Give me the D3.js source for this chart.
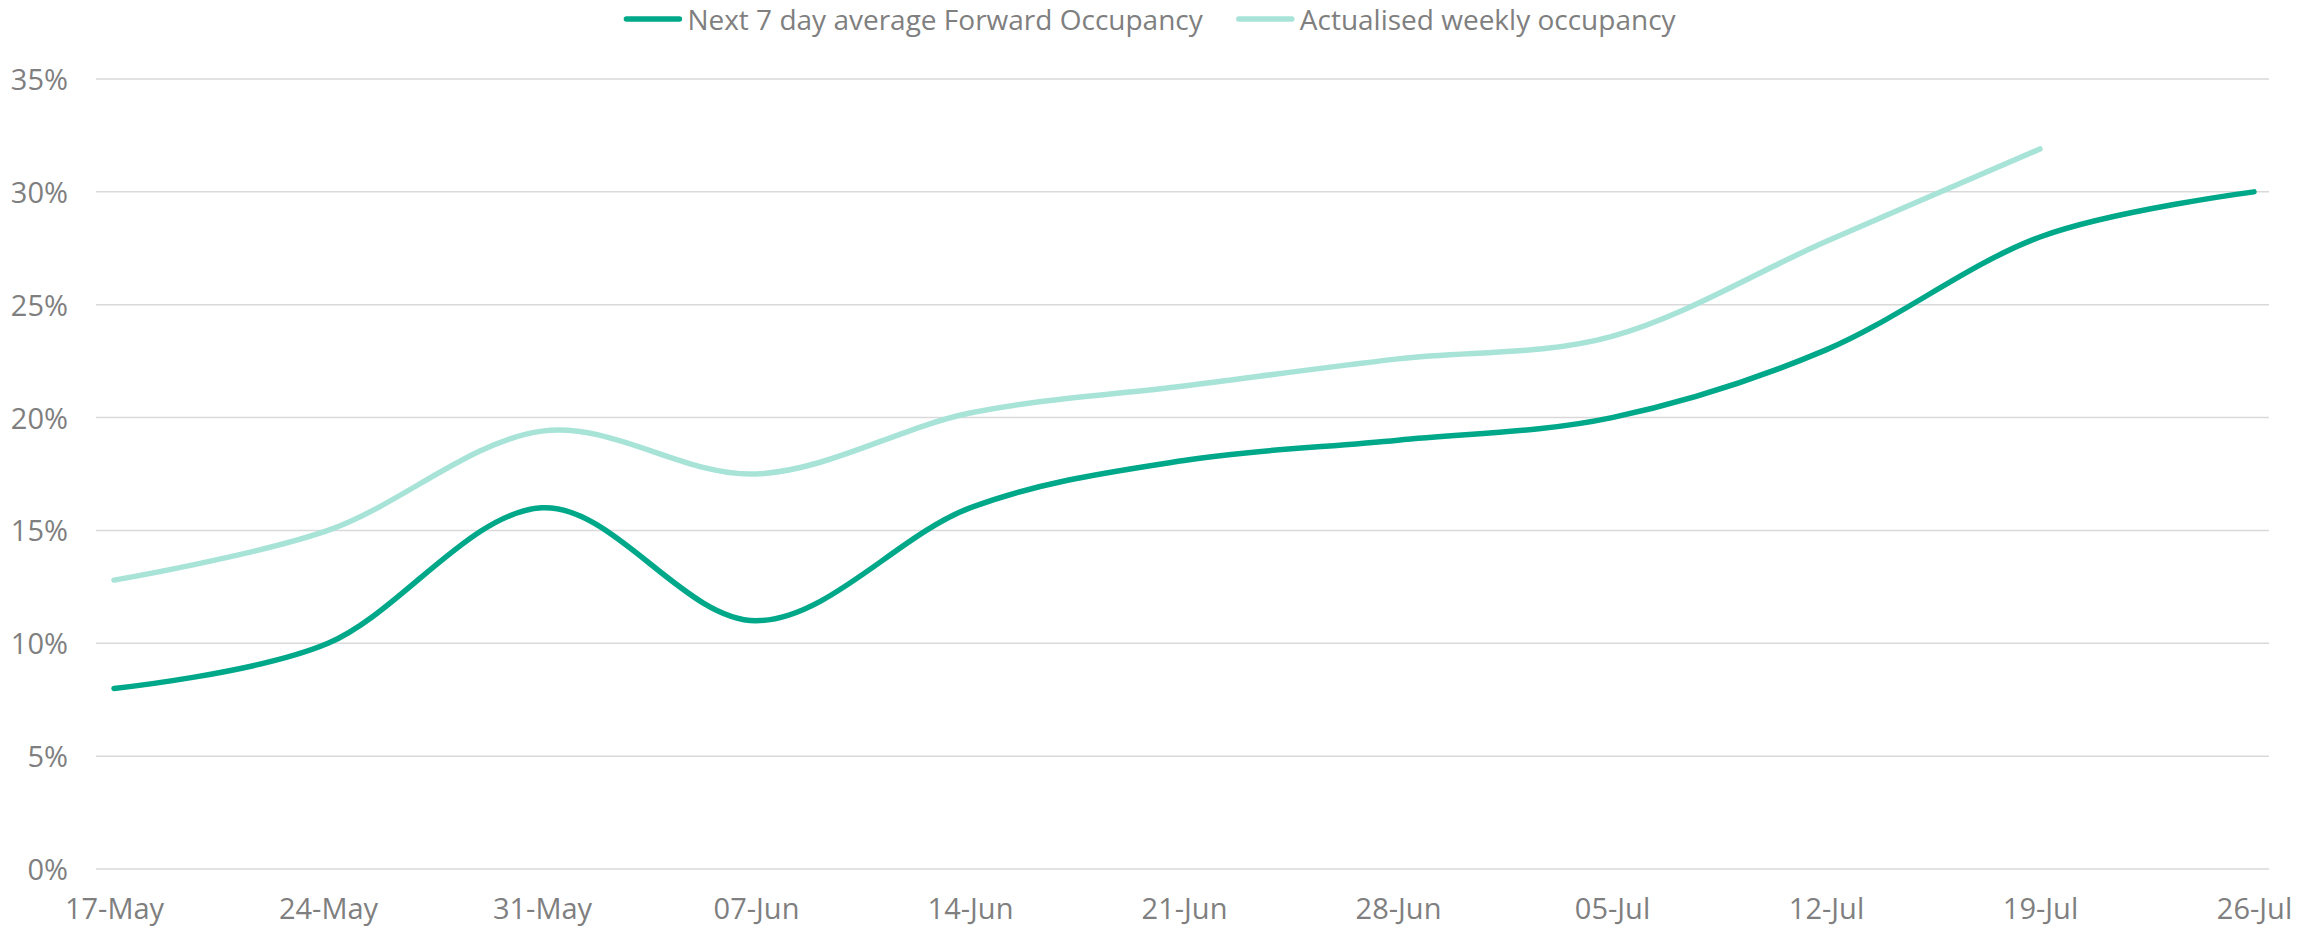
<!DOCTYPE html>
<html>
<head>
<meta charset="utf-8">
<script src="https://cdn.jsdelivr.net/npm/d3@7"></script>
<style>
  html, body { margin: 0; padding: 0; background: #ffffff; }
  svg { display: block; }
  text { font-family: "Open Sans", "Liberation Sans", sans-serif; fill: #7f7f7f; }
</style>
</head>
<body>
<svg id="chart" width="2323" height="929"></svg>
<script>
// ---- Data ----
const categories = ["17-May","24-May","31-May","07-Jun","14-Jun","21-Jun","28-Jun","05-Jul","12-Jul","19-Jul","26-Jul"];
const forwardOccupancy = [0.080, 0.100, 0.160, 0.110, 0.160, 0.181, 0.190, 0.200, 0.230, 0.280, 0.300];
const actualisedOccupancy = [0.128, 0.150, 0.194, 0.175, 0.202, 0.214, 0.226, 0.236, 0.278, 0.319, null];
const yTicks = [0, 0.05, 0.10, 0.15, 0.20, 0.25, 0.30, 0.35];
const seriesNames = ["Next 7 day average Forward Occupancy", "Actualised weekly occupancy"];
const seriesColors = ["#00a88a", "#a8e3d8"];

// ---- Layout ----
const W = 2323, H = 929;
const gridLeft = 96, gridRight = 2269;
const plotTop = 79, plotBottom = 869;
const fontSize = 29;
const legendFont = 28;

const svg = d3.select("#chart");

const x = d3.scalePoint().domain(categories).range([114, 2254]);
const y = d3.scaleLinear().domain([0, 0.35]).range([plotBottom, plotTop]);

// gridlines
svg.append("g").selectAll("line").data(yTicks).join("line")
  .attr("x1", gridLeft).attr("x2", gridRight)
  .attr("y1", d => y(d)).attr("y2", d => y(d))
  .attr("stroke", "#d9d9d9").attr("stroke-width", 1.5);

// y axis labels
const yAxis = d3.axisLeft(y).tickValues(yTicks).tickFormat(d3.format(".0%")).tickSize(0).tickPadding(0);
const yg = svg.append("g").attr("transform", "translate(68,0)").call(yAxis);
yg.select(".domain").remove();
yg.selectAll("text").attr("font-size", fontSize).attr("font-family", null).attr("fill", "#7f7f7f")
  .attr("dy", "0.36em");

// x axis labels
const xAxis = d3.axisBottom(x).tickSize(0).tickPadding(0);
const xg = svg.append("g").attr("transform", "translate(0,898)").call(xAxis);
xg.select(".domain").remove();
xg.selectAll("text").attr("font-size", fontSize).attr("font-family", null).attr("fill", "#7f7f7f")
  .attr("dy", "0.71em");

// lines
const line = d3.line()
  .defined(d => d.v != null)
  .x(d => x(d.c))
  .y(d => y(d.v))
  .curve(d3.curveCardinal.tension(0));

const seriesData = [forwardOccupancy, actualisedOccupancy];
[1, 0].forEach(i => {
  const pts = categories.map((c, j) => ({ c, v: seriesData[i][j] }));
  svg.append("path")
    .datum(pts)
    .attr("fill", "none")
    .attr("stroke", seriesColors[i])
    .attr("stroke-width", 5.5)
    .attr("stroke-linecap", "round")
    .attr("stroke-linejoin", "round")
    .attr("d", line);
});

// legend (measured layout, centred)
const legend = svg.append("g");
const swatch = 57, swatchGap = 6, itemGap = 34, legendY = 19;
const items = seriesNames.map((name, i) => {
  const g = legend.append("g");
  g.append("line").attr("x1", 2).attr("x2", swatch - 2).attr("y1", legendY).attr("y2", legendY)
    .attr("stroke", seriesColors[i]).attr("stroke-width", 5.5).attr("stroke-linecap", "round");
  const t = g.append("text").attr("x", swatch + swatchGap).attr("y", 30)
    .attr("font-size", legendFont).text(name);
  return { g, w: swatch + swatchGap + t.node().getComputedTextLength() };
});
const total = d3.sum(items, d => d.w) + itemGap * (items.length - 1);
let cx = 1150 - total / 2;
items.forEach(it => {
  it.g.attr("transform", `translate(${cx},0)`);
  cx += it.w + itemGap;
});
</script>
</body>
</html>
